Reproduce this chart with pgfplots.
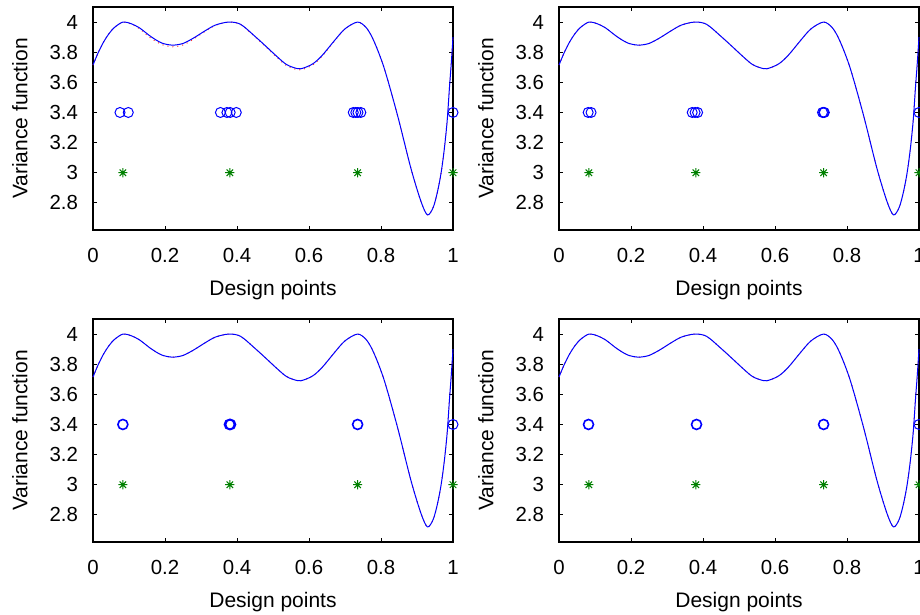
\documentclass[border=0pt]{standalone}
\usepackage{pgfplots}
\pgfplotsset{compat=1.18}
\usepackage{pgfplotstable}
\usepackage{fontspec}
\setmainfont{Liberation Sans}

\definecolor{mgreen}{RGB}{0,128,0}

% MATLAB-like asterisk: plus and cross
\pgfdeclareplotmark{mstar}{%
  \pgfpathmoveto{\pgfqpoint{-\pgfplotmarksize}{0pt}}\pgfpathlineto{\pgfqpoint{\pgfplotmarksize}{0pt}}%
  \pgfpathmoveto{\pgfqpoint{0pt}{-\pgfplotmarksize}}\pgfpathlineto{\pgfqpoint{0pt}{\pgfplotmarksize}}%
  \pgfpathmoveto{\pgfqpoint{-.7071\pgfplotmarksize}{-.7071\pgfplotmarksize}}\pgfpathlineto{\pgfqpoint{.7071\pgfplotmarksize}{.7071\pgfplotmarksize}}%
  \pgfpathmoveto{\pgfqpoint{-.7071\pgfplotmarksize}{.7071\pgfplotmarksize}}\pgfpathlineto{\pgfqpoint{.7071\pgfplotmarksize}{-.7071\pgfplotmarksize}}%
  \pgfusepathqstroke}

% variance function
\pgfplotstableread{
x y
0.000 3.715
0.015 3.800
0.030 3.870
0.045 3.925
0.060 3.965
0.083 4.000
0.105 3.990
0.130 3.960
0.160 3.905
0.190 3.862
0.220 3.847
0.250 3.858
0.280 3.895
0.310 3.940
0.340 3.980
0.377 4.000
0.410 3.985
0.450 3.905
0.480 3.840
0.507 3.780
0.535 3.722
0.555 3.700
0.577 3.690
0.610 3.722
0.637 3.780
0.670 3.875
0.700 3.955
0.735 4.000
0.760 3.960
0.781 3.870
0.809 3.693
0.846 3.380
0.883 3.030
0.911 2.810
0.929 2.720
0.945 2.770
0.957 2.875
0.967 3.000
0.976 3.160
0.984 3.350
0.990 3.560
0.995 3.720
1.000 3.900
}\vfblue

% dotted red curve of the first panel, a bit lower in the troughs
\pgfplotstableread{
x y
0.000 3.715
0.015 3.800
0.030 3.870
0.045 3.925
0.060 3.965
0.083 4.000
0.105 3.988
0.130 3.954
0.160 3.895
0.190 3.852
0.220 3.836
0.250 3.848
0.280 3.888
0.310 3.936
0.340 3.978
0.377 4.000
0.410 3.984
0.450 3.902
0.480 3.836
0.507 3.774
0.535 3.715
0.555 3.693
0.577 3.683
0.610 3.715
0.637 3.775
0.670 3.872
0.700 3.954
0.735 4.000
0.760 3.960
0.781 3.870
0.809 3.693
0.846 3.380
0.883 3.030
0.911 2.810
0.929 2.720
0.945 2.770
0.957 2.875
0.967 3.000
0.976 3.160
0.984 3.350
0.990 3.560
0.995 3.720
1.000 3.900
}\vfred

\pgfplotstableread{
x y
0.083 3
0.380 3
0.735 3
1.000 3
}\support

\pgfplotsset{
  vfpanel/.style={
    scale only axis, width=180pt, height=111.5pt,
    xmin=0, xmax=1, ymin=2.62, ymax=4.1,
    xtick={0,0.2,0.4,0.6,0.8,1},
    ytick={2.8,3,3.2,3.4,3.6,3.8,4},
    tick align=inside, major tick length=2.2pt,
    axis line style={line width=0.9pt},
    every tick/.style={black, line width=0.5pt},
    /pgf/number format/assume math mode=true,
    tick label style={font=\fontsize{10.2}{12}\selectfont},
    xticklabel style={yshift=-5.5pt},
    yticklabel style={xshift=-4pt},
    xlabel={Design points}, ylabel={Variance function},
    label style={font=\fontsize{10.5}{12}\selectfont},
    xlabel style={at={(axis description cs:0.5,-0.269)}, anchor=center},
    ylabel style={at={(axis description cs:-0.203,0.5)}, anchor=center},
    clip=false,
  },
  redcurve/.style={red!80, dotted, line width=0.5pt, smooth, no marks},
  bluecurve/.style={blue, line width=0.5pt, smooth, no marks},
  circs/.style={only marks, mark=o, blue, mark size=2.5pt, mark options={line width=#1}},
  circs/.default=0.5pt,
  stars/.style={only marks, mark=mstar, mgreen, mark size=2.3pt, mark options={line width=0.5pt}},
}

\begin{document}
\begin{tikzpicture}

% top left
\begin{axis}[vfpanel, at={(46.5pt,-3.5pt)}, anchor=north west]
\addplot [redcurve] table {\vfred};
\addplot [bluecurve] table {\vfblue};
\addplot [circs] coordinates {
(0.075,3.4) (0.098,3.4)
(0.354,3.4) (0.372,3.4) (0.381,3.4) (0.398,3.4)
(0.723,3.4) (0.730,3.4) (0.736,3.4) (0.744,3.4)
(1.000,3.4)
};
\addplot [stars] table {\support};
\end{axis}

% top right
\begin{axis}[vfpanel, at={(279.5pt,-3.5pt)}, anchor=north west]
\addplot [redcurve] table {\vfblue};
\addplot [bluecurve] table {\vfblue};
\addplot [circs] coordinates {
(0.081,3.4) (0.089,3.4)
(0.370,3.4) (0.378,3.4) (0.385,3.4)
(0.732,3.4) (0.735,3.4) (0.737,3.4)
(1.000,3.4)
};
\addplot [stars] table {\support};
\end{axis}

% bottom left
\begin{axis}[vfpanel, at={(46.5pt,-159.5pt)}, anchor=north west]
\addplot [redcurve] table {\vfblue};
\addplot [bluecurve] table {\vfblue};
\addplot [circs=0.8pt] coordinates {
(0.083,3.4)
(0.379,3.4) (0.382,3.4)
(0.735,3.4)
};
\addplot [circs] coordinates {(1.000,3.4)};
\addplot [stars] table {\support};
\end{axis}

% bottom right
\begin{axis}[vfpanel, at={(279.5pt,-159.5pt)}, anchor=north west]
\addplot [redcurve] table {\vfblue};
\addplot [bluecurve] table {\vfblue};
\addplot [circs=0.8pt] coordinates {
(0.082,3.4)
(0.382,3.4)
(0.735,3.4)
};
\addplot [circs] coordinates {(1.000,3.4)};
\addplot [stars] table {\support};
\end{axis}

\pgfresetboundingbox
\path[use as bounding box] (0pt,0pt) rectangle (460pt,-307.5pt);
\end{tikzpicture}
\end{document}
